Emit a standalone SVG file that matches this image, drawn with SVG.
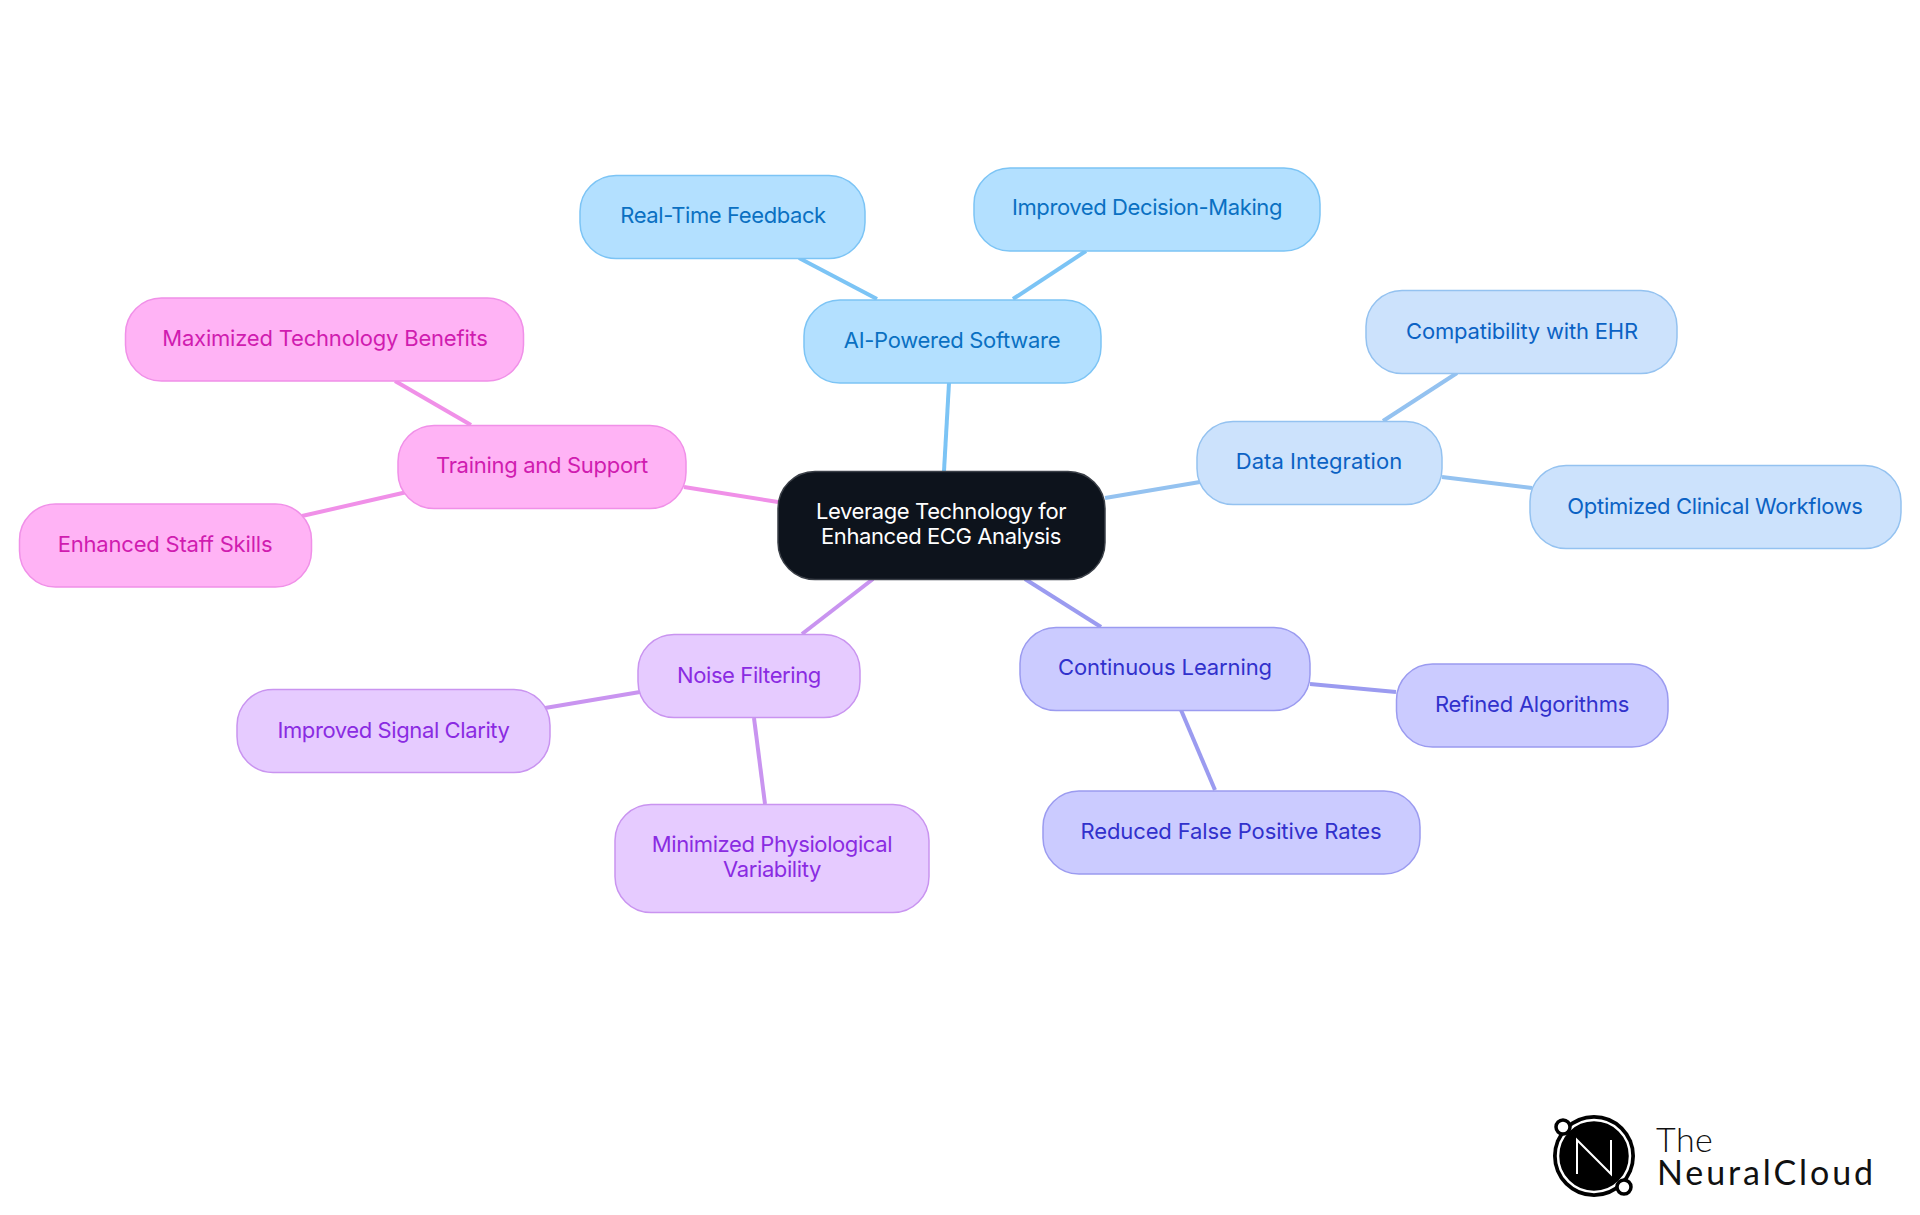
<svg xmlns="http://www.w3.org/2000/svg" width="1920" height="1215" viewBox="0 0 1920 1215">
<style>
text{font-family:"Inter","Noto Sans","Liberation Sans",sans-serif;font-size:22px;letter-spacing:-0.4px;text-anchor:middle;dominant-baseline:central}
text.s3{letter-spacing:-0.3px}text.s2{letter-spacing:-0.2px}text.s1{letter-spacing:-0.12px}text.s0{letter-spacing:0.05px}
.c line{stroke-width:4;fill:none}
.a rect{fill:#b3e0ff;stroke:#7cc4f5;stroke-width:1.5}.a text{fill:#0a70c2}
.d rect{fill:#cce2fc;stroke:#94c2f0;stroke-width:1.5}.d text{fill:#0b62c4}
.l rect{fill:#cbcbff;stroke:#9b9bf0;stroke-width:1.5}.l text{fill:#3131cc}
.n rect{fill:#e6cbff;stroke:#c994f0;stroke-width:1.5}.n text{fill:#8a2be2}
.t rect{fill:#ffb3f5;stroke:#f090e8;stroke-width:1.5}.t text{fill:#d01cb0}
#logo text{font-family:"Lato","Liberation Sans",sans-serif;font-size:34px;text-anchor:start;dominant-baseline:alphabetic;fill:#111}
</style>
<rect width="1920" height="1215" fill="#fff"/>
<g id="connectors" class="c">
<g stroke="#7cc4f5"><line x1="949" y1="383" x2="944" y2="471"/><line x1="799" y1="258" x2="877" y2="299"/><line x1="1086" y1="251" x2="1013" y2="299"/></g>
<g stroke="#94c2f0"><line x1="1105" y1="498" x2="1200" y2="482"/><line x1="1457" y1="373" x2="1383" y2="421"/><line x1="1442" y1="477" x2="1532" y2="488"/></g>
<g stroke="#9b9bf0"><line x1="1025" y1="579" x2="1101" y2="627"/><line x1="1310" y1="684" x2="1396" y2="692"/><line x1="1181" y1="710" x2="1215" y2="790"/></g>
<g stroke="#c994f0"><line x1="873" y1="579" x2="802" y2="634"/><line x1="640" y1="692" x2="545" y2="708"/><line x1="754" y1="718" x2="765" y2="804"/></g>
<g stroke="#f090e8"><line x1="778" y1="502" x2="684" y2="487"/><line x1="395" y1="381" x2="471" y2="425"/><line x1="407" y1="492" x2="302" y2="516"/></g>
</g>
<g id="root"><rect x="778" y="471.500" width="327" height="108" rx="37" fill="#0d131c" stroke="#3a3f47" stroke-width="1.5"/><text x="941" y="511" fill="#fff">Leverage Technology for</text><text x="941" y="536" fill="#fff">Enhanced ECG Analysis</text></g>
<g id="ai" class="a"><rect x="804" y="300" width="297" height="83" rx="36"/><text class="s3" x="952" y="340">AI-Powered Software</text></g>
<g id="rtf" class="a"><rect x="580" y="175.500" width="285" height="83" rx="36"/><text x="723" y="215">Real-Time Feedback</text></g>
<g id="idm" class="a"><rect x="974" y="168" width="346" height="83" rx="36"/><text x="1147" y="207">Improved Decision-Making</text></g>
<g id="di" class="d"><rect x="1197" y="421.500" width="245" height="83" rx="36"/><text class="s0" x="1319" y="461">Data Integration</text></g>
<g id="ehr" class="d"><rect x="1366" y="290.500" width="311" height="83" rx="36"/><text class="s2" x="1522" y="331">Compatibility with EHR</text></g>
<g id="ocw" class="d"><rect x="1530" y="465.500" width="371" height="83" rx="36"/><text class="s3" x="1715" y="506">Optimized Clinical Workflows</text></g>
<g id="cl" class="l"><rect x="1020" y="627.500" width="290" height="83" rx="36"/><text class="s1" x="1165" y="667">Continuous Learning</text></g>
<g id="ra" class="l"><rect x="1396.500" y="664" width="271.500" height="83" rx="36"/><text class="s2" x="1532" y="704">Refined Algorithms</text></g>
<g id="rfp" class="l"><rect x="1043" y="791" width="377" height="83" rx="36"/><text class="s1" x="1231" y="831">Reduced False Positive Rates</text></g>
<g id="nf" class="n"><rect x="638" y="634.500" width="222" height="83" rx="36"/><text x="749" y="675">Noise Filtering</text></g>
<g id="isc" class="n"><rect x="237" y="689.500" width="313" height="83" rx="36"/><text x="393.500" y="730">Improved Signal Clarity</text></g>
<g id="mpv" class="n"><rect x="615" y="804.500" width="314" height="108" rx="36"/><text x="772" y="844">Minimized Physiological</text><text x="772" y="869">Variability</text></g>
<g id="ts" class="t"><rect x="398" y="425.500" width="288" height="83" rx="36"/><text class="s3" x="542" y="465">Training and Support</text></g>
<g id="mtb" class="t"><rect x="125.500" y="298" width="398" height="83" rx="36"/><text class="s2" x="325" y="338">Maximized Technology Benefits</text></g>
<g id="ess" class="t"><rect x="19.500" y="504" width="292" height="83" rx="36"/><text class="s2" x="165" y="544">Enhanced Staff Skills</text></g>
<g id="logo">
<circle cx="1594" cy="1156" r="41" fill="#000"/><circle cx="1594" cy="1156" r="36" fill="none" stroke="#fff" stroke-width="2.500"/>
<path d="M1577 1174V1140L1611 1174V1140" fill="none" stroke="#fff" stroke-width="2"/>
<circle cx="1563" cy="1127" r="7" fill="#fff" stroke="#000" stroke-width="3.500"/><circle cx="1624" cy="1187" r="7" fill="#fff" stroke="#000" stroke-width="3.500"/>
<text x="1656" y="1152" style="font-weight:300;letter-spacing:0.500px">The</text>
<text x="1657" y="1185" style="font-weight:400;letter-spacing:2.900px">NeuralCloud</text>
</g>
</svg>
